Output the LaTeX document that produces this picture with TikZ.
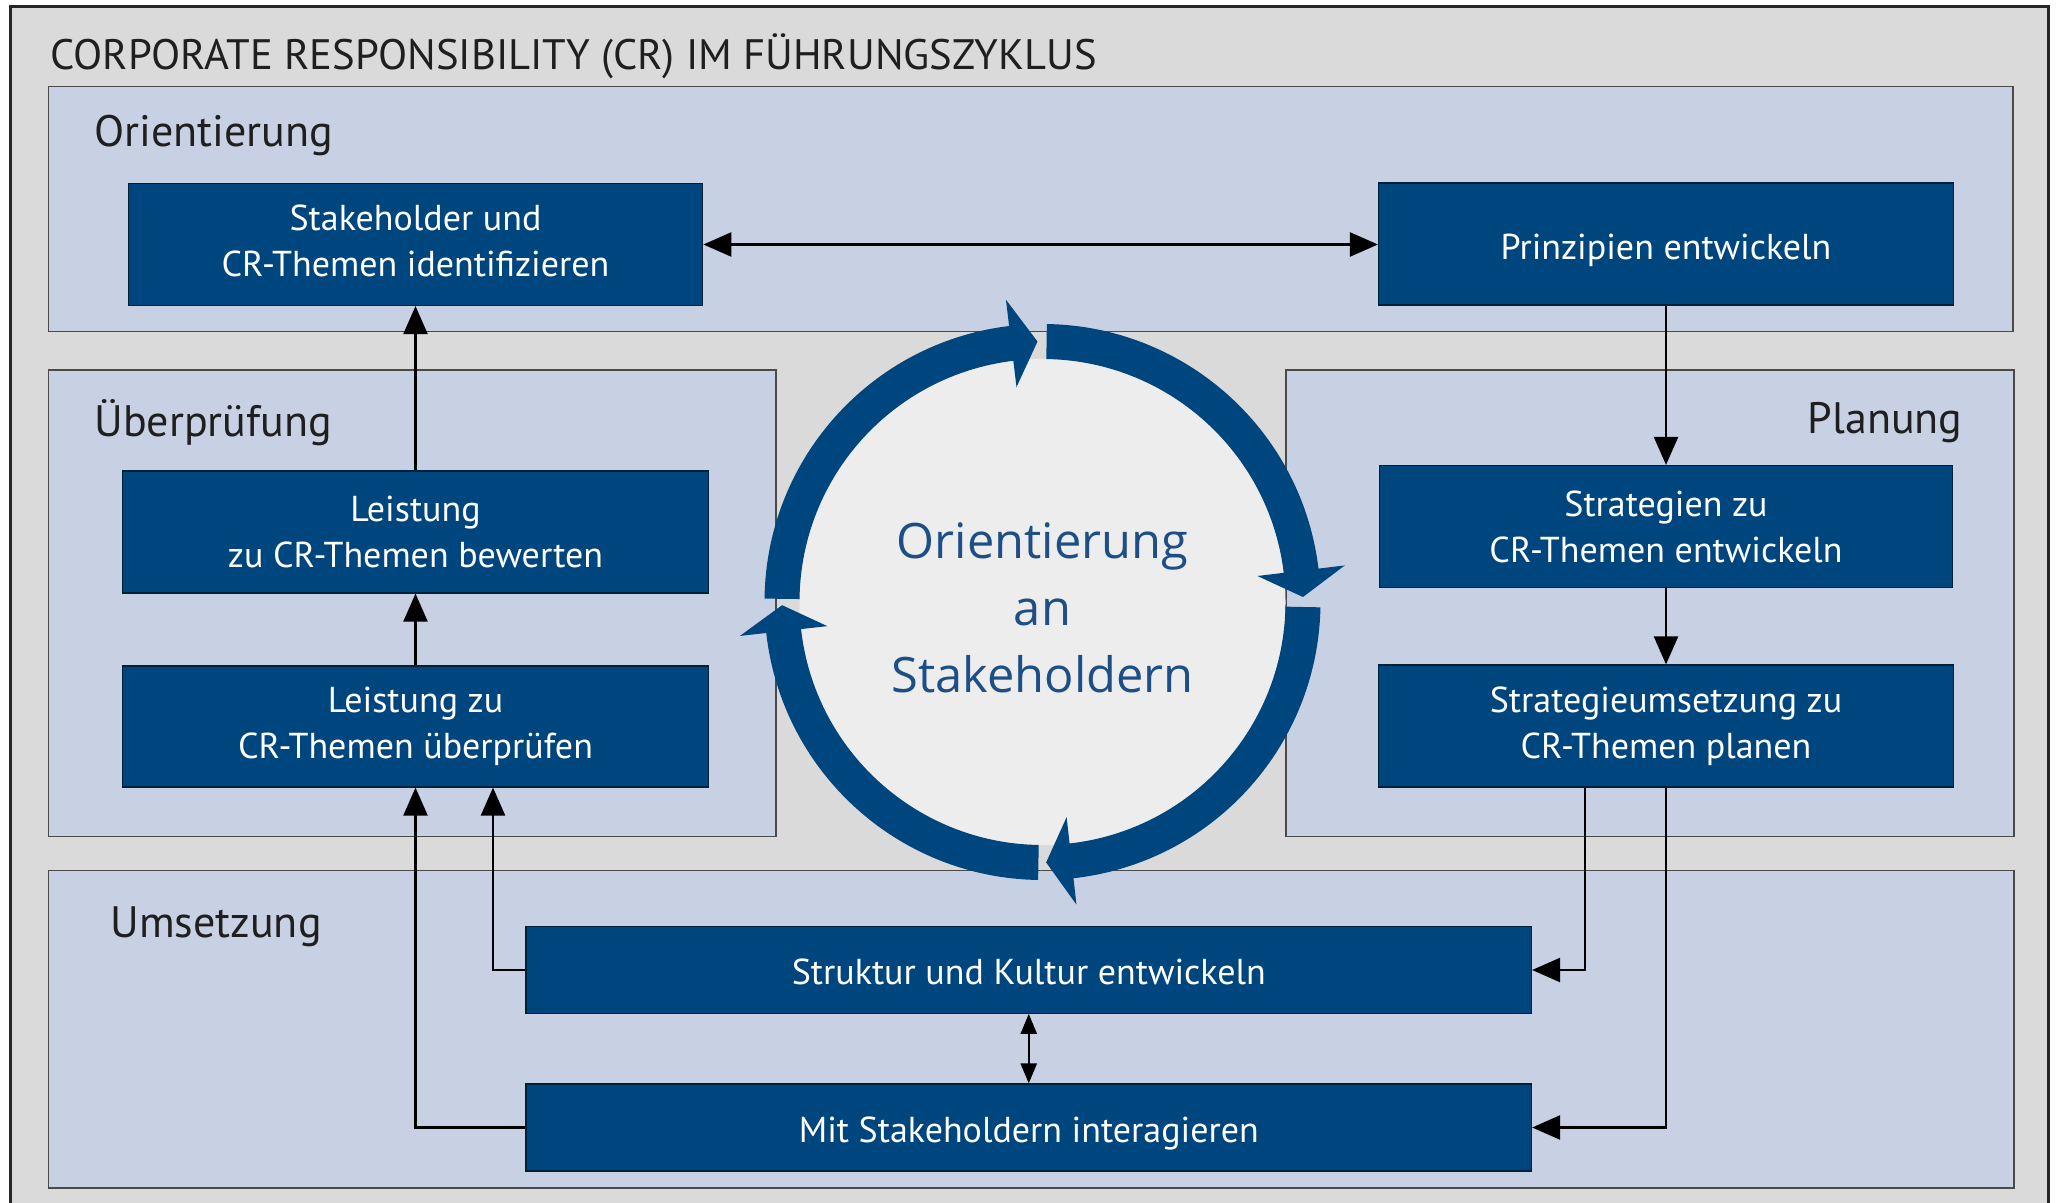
\documentclass[tikz,border=0pt]{standalone}
\usepackage{fontspec}
\setmainfont{PT Sans}
\newfontfamily\centerfont{Open Sans}
\usetikzlibrary{arrows.meta,calc}
\definecolor{boxblue}{HTML}{00467E}
\definecolor{panelblue}{HTML}{C8D0E4}
\definecolor{outergrey}{HTML}{DADADA}
\definecolor{innergrey}{HTML}{EDEDED}
\definecolor{centertext}{HTML}{1D4F86}
\definecolor{panelline}{HTML}{4A4A4A}
\newcommand\ringseg[3]{%
  \fill[ring] ([shift={(cc)}]#1:139pt) arc[start angle=#1, end angle=#2, radius=139pt]
    -- ([shift={(cc)}]#2:152.25pt) -- ([shift={(cc)}]#3:130.25pt)
    -- ([shift={(cc)}]#2:108.25pt) -- ([shift={(cc)}]#2:121.5pt)
    arc[start angle=#2, end angle=#1, radius=121.5pt] -- cycle;}
\newcommand\shiftdown[2]{\raisebox{-#1}[\height][\depth]{#2}}
\begin{document}
\begin{tikzpicture}[x=0.5pt,y=-0.5pt,
  panel/.style={fill=panelblue, draw=panelline, line width=0.8pt},
  stepbox/.style={fill=boxblue, draw=black!55!boxblue, line width=0.6pt, text=white,
    align=center, inner sep=0pt, font=\fontsize{18}{23}\selectfont},
  plabel/.style={anchor=base west, inner sep=0pt, font=\fontsize{22}{26}\selectfont, text=black!88},
  conn/.style={line width=1.2pt, -{Triangle[length=14pt,width=12pt]}},
  dconn/.style={line width=1.2pt, {Triangle[length=14pt,width=12pt]}-{Triangle[length=14pt,width=12pt]}},
  vconn/.style={line width=1.2pt, {Triangle[length=10pt,width=8pt]}-{Triangle[length=10pt,width=8pt]}},
  ring/.style={fill=boxblue}
]
\useasboundingbox (0,0) rectangle (2056,1203);
\fill[white] (0,0) rectangle (2056,1203);
\fill[outergrey] (10.5,6.6) rectangle (2048,1203);
\draw[line width=1.5pt, black!85] (10.5,1203) -- (10.5,6.6) -- (2048,6.6) -- (2048,1203);

\node[anchor=base west, inner sep=0pt, font=\fontsize{21.3}{24}\selectfont, text=black!88] (title)
  at (50,69.5) {CORPORATE RESPONSIBILITY (CR) IM FÜHRUNGSZYKLUS};

% panels
\draw[panel] (48.5,86.5) rectangle (2013,331.7);
\draw[panel] (48.5,370) rectangle (776,836.5);
\draw[panel] (1286,370) rectangle (2014,836.5);
\draw[panel] (48.5,870.5) rectangle (2014,1188);

\node[plabel] (lor) at (94,147) {Orientierung};
\node[plabel] (lue) at (94,436.6) {Überprüfung};
\node[plabel, anchor=base east] (lpl) at (1963,434) {Planung};
\node[plabel] (lum) at (110,937.5) {Umsetzung};

% central cycle
\coordinate (cc) at (1042.5,602);
\fill[innergrey] (cc) circle[radius=121.5pt];
\ringseg{179.3}{96.9}{91.1}
\ringseg{89.1}{6.9}{1.1}
\ringseg{-1.1}{-83.6}{-89.2}
\ringseg{-90.9}{-173.6}{-179.3}
\node[font=\centerfont\fontsize{24.4}{33.5}\selectfont, text=centertext, align=center, inner sep=0pt] (ctext)
  at (1042.5,608) {Orientierung\\an\\Stakeholdern};

% boxes
\node[stepbox, minimum width=287.25pt, minimum height=61pt] (stake) at (415.5,244.5) {\begin{tabular}{@{}c@{}}Stakeholder und\\CR-Themen identifizieren\end{tabular}};
\node[stepbox, minimum width=287.5pt, minimum height=61pt] (prinz) at (1666,244) {\shiftdown{3pt}{Prinzipien entwickeln}};
\node[stepbox, minimum width=293pt, minimum height=61pt] (bew) at (415.5,532) {Leistung\\zu CR-Themen bewerten};
\node[stepbox, minimum width=293pt, minimum height=60.5pt] (ueb) at (415.5,726.5) {Leistung zu\\CR-Themen überprüfen};
\node[stepbox, minimum width=286.5pt, minimum height=61pt] (strat) at (1666,526.5) {Strategien zu\\CR-Themen entwickeln};
\node[stepbox, minimum width=287.5pt, minimum height=61pt] (umset) at (1666,726) {Strategieumsetzung zu\\CR-Themen planen};
\node[stepbox, minimum width=502.75pt, minimum height=43.25pt] (strukt) at (1028.75,970) {\shiftdown{1pt}{Struktur und Kultur entwickeln}};
\node[stepbox, minimum width=502.75pt, minimum height=43.5pt] (mit) at (1028.75,1127.5) {\shiftdown{3pt}{Mit Stakeholdern interagieren}};

% connectors
\coordinate (xa) at (1585,0);
\coordinate (xb) at (493,0);
\draw[dconn] (stake.east) -- (stake.east -| prinz.west);
\draw[conn] (prinz.south) -- (strat.north);
\draw[conn] (strat.south) -- (umset.north);
\draw[conn] (umset.south -| xa) |- (strukt.east);
\draw[conn] (umset.south) |- (mit.east);
\draw[conn] (strukt.west) -| (ueb.south -| xb);
\draw[conn] (mit.west) -| (ueb.south);
\draw[conn] (ueb.north) -- (bew.south);
\draw[conn] (bew.north) -- (stake.south);
\draw[vconn] (strukt.south) -- (mit.north);
\end{tikzpicture}
\end{document}
